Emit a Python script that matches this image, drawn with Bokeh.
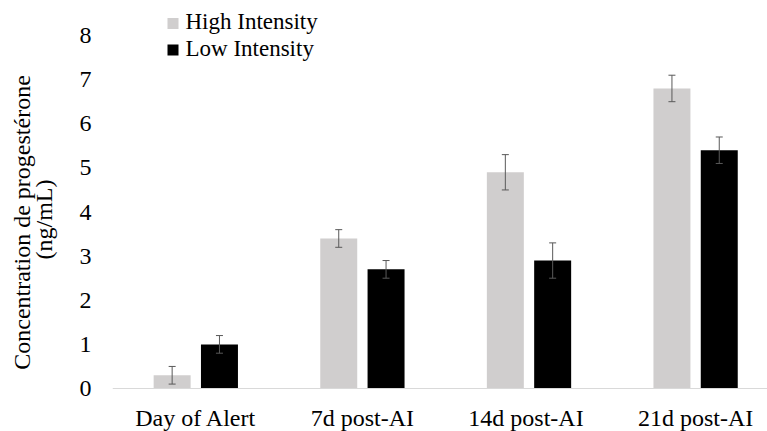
import math
from bokeh.plotting import figure
from bokeh.layouts import row
from bokeh.models import ColumnDataSource, Whisker, TeeHead, FixedTicker, Span
from bokeh.core.properties import value
from bokeh.transform import dodge
from bokeh.embed import file_html
from bokeh.resources import INLINE

# ---------------- data ----------------
categories = ["Day of Alert", "7d post-AI", "14d  post-AI", "21d post-AI"]
high = [0.3, 3.4, 4.9, 6.8]
high_err = [0.2, 0.2, 0.4, 0.3]
low = [1.0, 2.7, 2.9, 5.4]
low_err = [0.2, 0.2, 0.4, 0.3]
y_ticks = [0, 1, 2, 3, 4, 5, 6, 7, 8]
y_title = ["Concentration de  progestérone", "(ng/mL)"]
series_names = ["High Intensity", "Low Intensity"]
series_colors = ["#D0CECE", "#000000"]

FONT = "Liberation Serif"
W, H = 767, 431
TITLE_W = 62          # width of the strip holding the y-axis title
FRAME_LEFT = 112      # page x of the plot frame's left edge
ZERO_Y = 388          # page y of value 0
PX_PER_UNIT = 44.125  # vertical pixels per unit
PX_PER_CAT = 166.6    # horizontal pixels per category

main_w = W - TITLE_W
x_end = (main_w - (FRAME_LEFT - TITLE_W)) / PX_PER_CAT
y_start = -(H - ZERO_Y) / PX_PER_UNIT
y_end = ZERO_Y / PX_PER_UNIT


def dx(px):  # page x -> data x
    return (px - FRAME_LEFT) / PX_PER_CAT


def dy(py):  # page y -> data y
    return (ZERO_Y - py) / PX_PER_UNIT


xpos = [i + 0.5 for i in range(len(categories))]
src = ColumnDataSource(dict(
    x=xpos,
    high=high, high_up=[v + e for v, e in zip(high, high_err)], high_lo=[v - e for v, e in zip(high, high_err)],
    low=low, low_up=[v + e for v, e in zip(low, low_err)], low_lo=[v - e for v, e in zip(low, low_err)],
))

# ---------------- main plot ----------------
p = figure(width=main_w, height=H, output_backend="svg", toolbar_location=None,
           x_range=(0, x_end), y_range=(y_start, y_end),
           min_border_left=FRAME_LEFT - TITLE_W, min_border_right=0, min_border_top=0, min_border_bottom=0)
p.outline_line_color = None
p.xgrid.visible = False
p.ygrid.visible = False
p.xaxis.visible = False

# category axis baseline
p.add_layout(Span(location=0, dimension="width", line_color="#D9D9D9", line_width=1))

off = 0.142
bw = 0.222
p.vbar(x=dodge("x", -off, range=p.x_range), top="high", bottom=0, width=bw, source=src,
       fill_color=series_colors[0], line_color=None)
p.vbar(x=dodge("x", off, range=p.x_range), top="low", bottom=0, width=bw, source=src,
       fill_color=series_colors[1], line_color=None)

for key, d in (("high", -off), ("low", off)):
    w = Whisker(base=dodge("x", d, range=p.x_range), upper=key + "_up", lower=key + "_lo", source=src,
                line_color="#595959", line_width=1, level="overlay",
                upper_head=TeeHead(size=7, line_color="#595959", line_width=1),
                lower_head=TeeHead(size=7, line_color="#595959", line_width=1))
    p.add_layout(w)

# category labels
p.text(x=xpos, y=[dy(417.5)] * len(categories), text=categories,
       text_font=value(FONT), text_font_size="24px", text_color="#000000",
       text_align="center", text_baseline="middle")

# y axis
p.yaxis.ticker = FixedTicker(ticks=y_ticks)
p.yaxis.axis_line_color = None
p.yaxis.major_tick_line_color = None
p.yaxis.minor_tick_line_color = None
p.yaxis.major_tick_out = 0
p.yaxis.major_tick_in = 0
p.yaxis.major_label_standoff = 21
p.yaxis.major_label_text_font = FONT
p.yaxis.major_label_text_font_size = "24px"
p.yaxis.major_label_text_color = "#000000"

# legend (drawn with glyphs)
p.scatter(x=[dx(172.5)] * 2, y=[dy(23), dy(49.5)], marker="square", size=11,
          fill_color=series_colors, line_color=None)
p.text(x=[dx(185)] * 2, y=[dy(20.5), dy(47.5)], text=series_names,
       text_font=value(FONT), text_font_size="23px", text_color="#000000",
       text_align="left", text_baseline="middle")

# ---------------- y-axis title strip ----------------
t = figure(width=TITLE_W, height=H, output_backend="svg", toolbar_location=None,
           x_range=(0, TITLE_W), y_range=(0, H), x_axis_type=None, y_axis_type=None,
           min_border_left=0, min_border_right=0, min_border_top=0, min_border_bottom=0)
t.outline_line_color = None
t.text(x=[21, 43], y=[H - 219, H - 219], text=y_title, angle=math.pi / 2,
       text_font=value(FONT), text_font_size="24px", text_color="#000000",
       text_align="center", text_baseline="middle")

layout = row(t, p, spacing=0)
open("out.html", "w").write(file_html(layout, INLINE))
